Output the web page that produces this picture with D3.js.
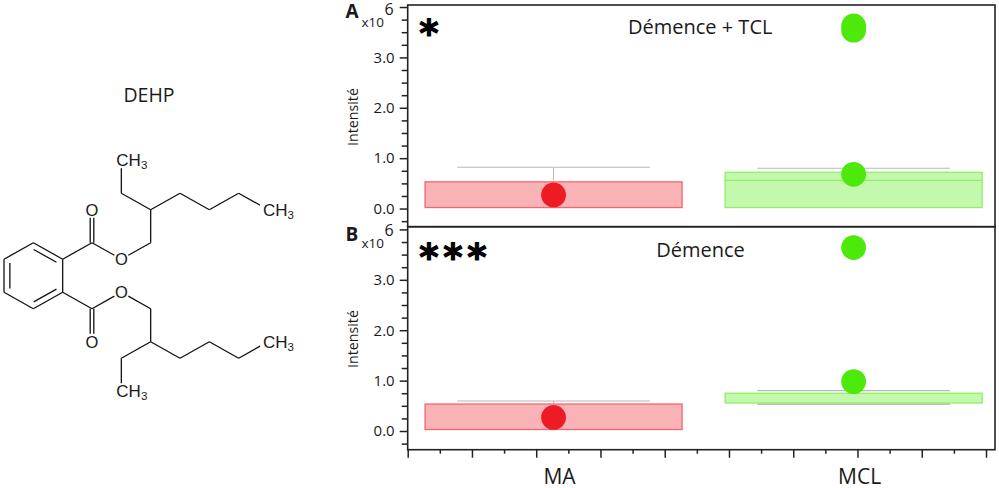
<!DOCTYPE html>
<html><head><meta charset="utf-8">
<script src="https://cdn.jsdelivr.net/npm/d3@7"></script>
<style>html,body{margin:0;padding:0;background:#fff}svg{display:block}text{font-family:"Open Sans",sans-serif;fill:#1a1a1a}</style>
</head><body><svg id="c" width="999" height="488"></svg>
<script>
// ---------- data ----------
const categories = ["MA", "MCL"];
const categoryPos = [4.54, 13.88];
const boxWidth = 8, capWidth = 6;
const titles = ["Démence + TCL", "Démence"];
const panelLetters = ["A", "B"];
const stars = ["*", "***"];
const yMajor = [0, 1, 2, 3, 4];
const yLabelled = [0, 1, 2, 3];
const yMinor = [-0.25,0.25,0.5,0.75,1.25,1.5,1.75,2.25,2.5,2.75,3.25,3.5,3.75];
const xMajor = [0,2,4,6,8,10,12,14,16,18];
const xMinor = [1,3,5,7,9,11,13,15,17];

const boxLowA   = [0.02, 0.02];
const boxHighA  = [0.53, 0.72];
const medianA   = [null, 0.56];
const whiskHiA  = [0.82, 0.80];
const whiskLoA  = [null, null];
const pointsAMA = [0.27];
const pointsAMCL= [0.68, 3.54, 3.625];

const boxLowB   = [0.03, 0.555];
const boxHighB  = [0.535, 0.75];
const medianB   = [null, null];
const whiskHiB  = [0.595, 0.80];
const whiskLoB  = [null, 0.535];
const pointsBMA = [0.27];
const pointsBMCL= [0.98, 3.64];

// molecule skeleton on a hexagonal grid (column, row)
const atoms = {
 a:[1,0],b:[2,1],c:[2,3],d:[1,4],e:[0,3],f:[0,1],
 g:[3,0],h:[3,-2,"O"],i:[4,1,"O"],j:[5,0],k:[5,-2],l:[4,-3],m:[4,-5,"CH3"],
 n:[6,-3],o:[7,-2],p:[8,-3],q:[9,-2,"CH3"],
 r:[3,4],s:[3,6,"O"],t:[4,3,"O"],u:[5,4],v:[5,6],w:[4,7],x:[4,9,"CH3"],
 y:[6,7],z:[7,6],A:[8,7],B:[9,6,"CH3"]
};
const bonds = ["ab","bc","cd","de","ef","fa","bg","gi","ij","jk","kl","lm","kn","no","op","pq",
 "cr","rt","tu","uv","vw","wx","vy","yz","zA","AB"];
const carbonyls = ["gh","rs"];
const ringDoubles = ["ab","cd","ef"];

// ---------- scales ----------
const svg = d3.select("#c");
const x = d3.scaleLinear().domain([0, 18]).range([407.7, 986]);
const frameRight = 995;
const panels = [
 {y:d3.scaleLinear().domain([-0.36,4.04]).range([226.7,5]), low:boxLowA, high:boxHighA, med:medianA, hi:whiskHiA, lo:whiskLoA, pts:[pointsAMA,pointsAMCL], stemTo:[0.56,null], labelY:117, titleY:34, titleX:700.2, starY:46},
 {y:d3.scaleLinear().domain([-0.371,4.054]).range([449.7,226.7]), low:boxLowB, high:boxHighB, med:medianB, hi:whiskHiB, lo:whiskLoB, pts:[pointsBMA,pointsBMCL], stemTo:[0.535,null], labelY:339, titleY:257, titleX:700.5, starY:270}
];
const boxFill=["#F9B3B7","#C4F8AC"], boxStroke=["#F4656E","#8FEF6A"], ptFill=["#ED1C24","#4DE90B"], grey="#B8B8B8", ink="#222";

function styleAxis(g){g.select(".domain").remove();g.selectAll("line").attr("stroke",ink).attr("stroke-width",1.5);}

panels.forEach((p,k)=>{
 const g = svg.append("g");
 const [yB,yT] = p.y.range();
 categories.forEach((c,i)=>{
  const x0=x(categoryPos[i]-boxWidth/2), x1=x(categoryPos[i]+boxWidth/2);
  const c0=x(categoryPos[i]-capWidth/2), c1=x(categoryPos[i]+capWidth/2), xc=x(categoryPos[i]);
  if(p.stemTo[i]!==null) g.append("line").attr("x1",xc).attr("x2",xc).attr("y1",p.y(p.hi[i])).attr("y2",p.y(p.stemTo[i])).attr("stroke",grey);
  g.append("line").attr("x1",c0).attr("x2",c1).attr("y1",p.y(p.hi[i])).attr("y2",p.y(p.hi[i])).attr("stroke",grey).attr("stroke-width",1.2);
  if(p.lo[i]!==null) g.append("line").attr("x1",c0).attr("x2",c1).attr("y1",p.y(p.lo[i])).attr("y2",p.y(p.lo[i])).attr("stroke","#A8A8A8").attr("stroke-width",1.2);
  g.append("rect").attr("x",x0).attr("width",x1-x0).attr("y",p.y(p.high[i])).attr("height",p.y(p.low[i])-p.y(p.high[i]))
   .attr("fill",boxFill[i]).attr("stroke",boxStroke[i]).attr("stroke-width",1.3);
  if(p.med[i]!==null) g.append("line").attr("x1",x0).attr("x2",x1).attr("y1",p.y(p.med[i])).attr("y2",p.y(p.med[i])).attr("stroke",boxStroke[i]).attr("stroke-width",1.2);
  g.selectAll(null).data(p.pts[i]).join("circle").attr("cx",xc).attr("cy",d=>p.y(d)).attr("r",12.4).attr("fill",ptFill[i]);
 });
 g.append("rect").attr("x",x(0)).attr("y",yT).attr("width",frameRight-x(0)).attr("height",yB-yT).attr("fill","none").attr("stroke",ink).attr("stroke-width",1.6);
 g.append("g").attr("transform",`translate(${x(0)},0)`).call(d3.axisLeft(p.y).tickValues(yMinor).tickSize(6).tickFormat("")).call(styleAxis);
 const ax=g.append("g").attr("transform",`translate(${x(0)},0)`).call(d3.axisLeft(p.y).tickValues(yMajor).tickSize(8).tickPadding(5).tickFormat(d=>yLabelled.includes(d)?d3.format(".1f")(d):"")).call(styleAxis);
 ax.selectAll("text").style("font-family",'"Open Sans"').style("font-size","15px").attr("fill","#1a1a1a");
 g.append("text").attr("transform",`translate(352.7,${p.labelY}) rotate(-90)`).attr("text-anchor","middle").attr("dy","0.35em").style("font-size","14.2px").text("Intensité");
 g.append("text").attr("x",345.5).attr("y",k?240.5:18).style("font-size","19px").style("font-weight",700).text(panelLetters[k]);
 g.append("text").attr("x",361.5).attr("y",k?248:27).style("font-size","13.5px").text("x10");
 g.append("text").attr("x",384.5).attr("y",k?236:14.5).style("font-size","16px").text("6");
 g.append("text").attr("x",p.titleX).attr("y",p.titleY).attr("text-anchor","middle").style("font-size","20px").text(titles[k]);
 const starXs=[429,453,477];
 stars[k].split("").forEach((s,i)=>{
  g.append("text").attr("x",starXs[i]).attr("y",p.starY).attr("text-anchor","middle")
   .style("font-family",'"DejaVu Sans"').style("font-weight",700).style("font-size","37px").style("fill","#000")
   .style("stroke","#000").style("stroke-width","1.1px").text(s);
 });
});

const xg=svg.append("g").attr("transform","translate(0,449.7)");
xg.append("g").call(d3.axisBottom(x).tickValues(xMajor).tickSize(8).tickFormat("")).call(styleAxis);
xg.append("g").call(d3.axisBottom(x).tickValues(xMinor).tickSize(4).tickFormat("")).call(styleAxis);
categories.forEach((c,i)=>svg.append("text").attr("x",x(categoryPos[i])+6).attr("y",484).attr("text-anchor","middle").style("font-size","21px").text(c));

// ---------- molecule ----------
const mx=d3.scaleLinear().domain([0,9]).range([4,268]);
const my=d3.scaleLinear().domain([0,4]).range([242.7,308.7]);
const mol=svg.append("g");
mol.append("text").attr("x",149).attr("y",102).attr("text-anchor","middle").style("font-size","19.5px").text("DEHP");
function seg(a,b){
 const ax=mx(a[0]),ay=my(a[1]),bx=mx(b[0]),by=my(b[1]);
 const len=Math.hypot(bx-ax,by-ay),ux=(bx-ax)/len,uy=(by-ay)/len;
 const trim=t=>t?(t==="O"?8:(Math.abs(ux)>0.5?9:8)):0;
 return [ax+ux*trim(a[2]),ay+uy*trim(a[2]),bx-ux*trim(b[2]),by-uy*trim(b[2]),ux,uy];
}
function line(s,stroke=1.3){mol.append("line").attr("x1",s[0]).attr("y1",s[1]).attr("x2",s[2]).attr("y2",s[3]).attr("stroke","#111").attr("stroke-width",stroke);}
bonds.forEach(b=>line(seg(atoms[b[0]],atoms[b[1]])));
carbonyls.forEach(b=>{
 const s=seg(atoms[b[0]],atoms[b[1]]);
 line([s[0]-1.8,s[1],s[2]-1.8,s[3]]);line([s[0]+1.8,s[1],s[2]+1.8,s[3]]);
});
const ringCx=mx(1),ringCy=my(2);
ringDoubles.forEach(b=>{
 const s=seg(atoms[b[0]],atoms[b[1]]);
 const f=0.8;
 const off=(px,py)=>[ringCx+(px-ringCx)*f,ringCy+(py-ringCy)*f];
 const m1=off(s[0],s[1]),m2=off(s[2],s[3]);
 line([m1[0]+s[4]*0.4,m1[1]+s[5]*0.4,m2[0]-s[4]*0.4,m2[1]-s[5]*0.4]);
});
Object.values(atoms).filter(a=>a[2]).forEach(a=>{
 const tx=mx(a[0]),ty=my(a[1]);
 if(a[2]==="O"){
  mol.append("text").attr("x",tx).attr("y",ty+6).attr("text-anchor","middle").style("font-family",'"Liberation Sans"').style("font-size","16.5px").text("O");
 } else {
  const t=mol.append("text").attr("y",ty+6).attr("x",tx-5).style("font-family",'"Liberation Sans"').style("font-size","17px");
  t.append("tspan").text("CH");
  t.append("tspan").attr("dy",3).style("font-size","11.5px").text("3");
 }
});
</script></body></html>
